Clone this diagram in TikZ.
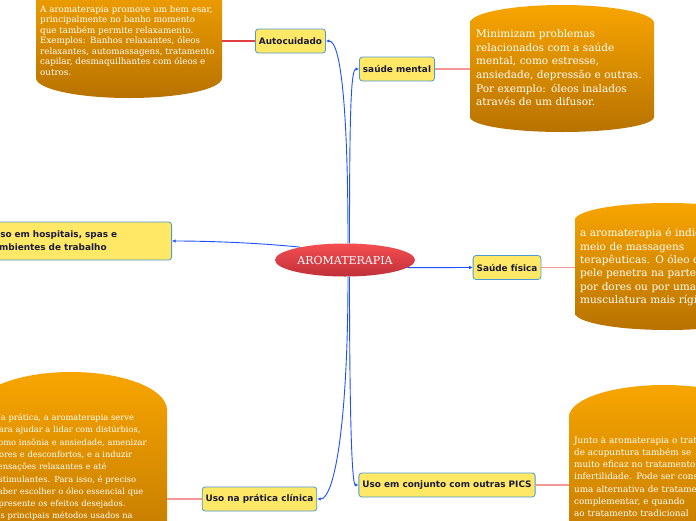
\documentclass[tikz,border=0pt]{standalone}
\usepackage{fontspec}
\usetikzlibrary{arrows.meta,shapes.geometric}
\newfontfamily\notefont{DejaVu Serif}
\newfontfamily\topicfont{DejaVu Sans}
\definecolor{topicfill}{HTML}{FFE866}
\definecolor{topicline}{HTML}{4E9BD0}
\definecolor{topictext}{HTML}{1A1A3A}
\definecolor{linkblue}{HTML}{1E50FF}
\definecolor{notetop}{HTML}{F7A500}
\definecolor{notebot}{HTML}{B87200}
\definecolor{roottop}{HTML}{F44E50}
\definecolor{rootbot}{HTML}{C0303A}
\definecolor{pinkline}{RGB}{244,150,150}
\definecolor{redline}{RGB}{226,64,64}
% x1, x2, x radius, top corner y, bottom corner y, top bulge, bottom bulge
\newcommand{\noteshape}[7]{%
  \shade[top color=notetop,bottom color=notebot] (#1,#4) arc[start angle=180,end angle=360,x radius=#3,y radius=#6] -- (#2,#5) arc[start angle=0,end angle=180,x radius=#3,y radius=#7] -- cycle;}
\begin{document}
\begin{tikzpicture}[x=1pt,y=-1pt,
  topic/.style={draw=topicline,fill=topicfill,rounded corners=3pt,line width=0.8pt,text=topictext,font=\topicfont\bfseries\fontsize{8.9}{13}\selectfont,minimum height=24pt,inner xsep=3.5pt},
  notetext/.style={anchor=base west,inner sep=0pt,text=white,align=left,text width=300pt},
  linkline/.style={color=linkblue,line width=0.9pt,-{Latex[length=3.5pt,width=3.5pt]}},
  notelinkline/.style={color=pinkline,line width=1.1pt}]
  \fill[white] (0,0) rectangle (696,520);
  \path[use as bounding box] (0,0) rectangle (696,520);
  \noteshape{36}{222}{93}{-5}{78}{20}{20}
  \noteshape{470}{654}{92}{23}{117}{18}{15}
  \noteshape{575}{760}{92.5}{220}{313}{17}{17}
  \noteshape{-25}{167}{96}{410}{560}{38}{20}
  \noteshape{569}{759}{95}{417}{560}{32}{20}
  \node[notetext,font=\notefont\fontsize{8.7}{10.5}\selectfont] (autotxt) at (40,12.3) {A aromaterapia promove um bem esar,\\principalmente no banho momento\\que também permite relaxamento.\\Exemplos: Banhos relaxantes, óleos\\relaxantes, automassagens, tratamento\\capilar, desmaquilhantes com óleos e\\outros.};
  \node[notetext,font=\notefont\fontsize{10.5}{13.6}\selectfont] (menttxt) at (476,37.7) {Minimizam problemas\\relacionados com a saúde\\mental, como estresse,\\ansiedade, depressão e outras.\\Por exemplo: óleos inalados\\através de um difusor.};
  \node[notetext,font=\notefont\fontsize{10.5}{13.4}\selectfont] (fistxt) at (580,236.7) {a aromaterapia é indicada\\meio de massagens\\terapêuticas. O óleo di\\pele penetra na parte\\por dores ou por uma\\musculatura mais rígida.};
  \node[notetext,font=\notefont\fontsize{8.3}{12.3}\selectfont] (clintxt) at (-6.5,420.5) {Na prática, a aromaterapia serve\\para ajudar a lidar com distúrbios,\\como insônia e ansiedade, amenizar\\dores e desconfortos, e a induzir\\sensações relaxantes e até\\estimulantes. Para isso, é preciso\\saber escolher o óleo essencial que\\apresente os efeitos desejados.\\Os principais métodos usados na};
  \node[notetext,font=\notefont\fontsize{8.8}{12.2}\selectfont] (picstxt) at (574,443.3) {Junto à aromaterapia o tratamento\\de acupuntura também se\\muito eficaz no tratamento\\infertilidade. Pode ser considerado\\uma alternativa de tratamento\\complementar, e quando\\ao tratamento tradicional};
  \node[topic] (auto) at (290.5,41) {Autocuidado};
  \node[topic] (ment) at (397,69) {saúde mental};
  \node[topic,anchor=east,text width=175pt,align=left,minimum height=38pt] (hosp) at (172,241) {Uso em hospitais, spas e\\ambientes de trabalho};
  \node[topic] (fis) at (507,267.5) {Saúde física};
  \node[topic] (clin) at (259.5,499) {Uso na prática clínica};
  \node[topic] (pics) at (447,485) {Uso em conjunto com outras PICS};
  \node[ellipse,top color=roottop,bottom color=rootbot,minimum width=140pt,minimum height=33pt,inner sep=0pt,text=white,font=\notefont\fontsize{11}{13}\selectfont] (aroma) at (345,260) {AROMATERAPIA};
  \coordinate (autoN) at (222,41);
  \coordinate (mentN) at (470,69);
  \coordinate (fisN) at (575,267.5);
  \coordinate (clinN) at (167,499);
  \coordinate (picsN) at (569,485);
  \draw[linkline] ([xshift=3pt]aroma.north) .. controls (348,100) and (340,41) .. (auto.east);
  \draw[linkline] ([xshift=4.5pt]aroma.north) .. controls (349.5,110) and (351,69) .. (ment.west);
  \draw[linkline] (aroma.164) .. controls (260,243) and (210,241) .. (hosp.east);
  \draw[linkline] (aroma.-7) -- (fis.west);
  \draw[linkline] ([xshift=3pt]aroma.south) .. controls (348,420) and (335,499) .. (clin.east);
  \draw[linkline] ([xshift=4.5pt]aroma.south) .. controls (349.5,420) and (352,485) .. (pics.west);
  \draw[notelinkline,color=redline] (auto.west) -- (autoN);
  \draw[notelinkline] (ment.east) -- (mentN);
  \draw[notelinkline] (fis.east) -- (fisN);
  \draw[notelinkline] (clin.west) -- (clinN);
  \draw[notelinkline] (pics.east) -- (picsN);
\end{tikzpicture}
\end{document}
